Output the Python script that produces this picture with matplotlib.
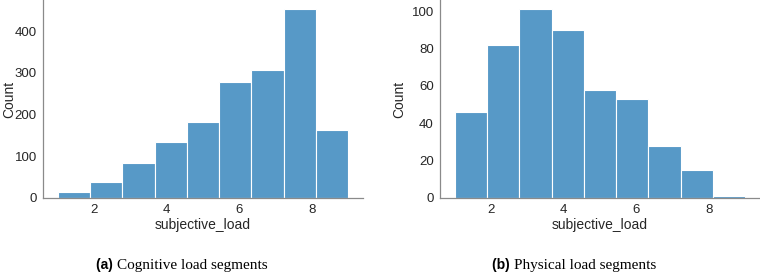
import numpy as np
import matplotlib
matplotlib.use("Agg")
import matplotlib.pyplot as plt

# histogram counts, 9 bins over subjective_load 1..9
cognitive_counts = [14, 39, 83, 134, 182, 278, 308, 452, 162]
physical_counts = [46, 82, 101, 90, 58, 53, 28, 15, 1]
load_min, load_max, n_bins = 1, 9, 9

cognitive_ticks = [0, 100, 200, 300, 400]
physical_ticks = [0, 20, 40, 60, 80, 100]
x_ticks = [2, 4, 6, 8]

captions = [("(a)", "Cognitive load segments"), ("(b)", "Physical load segments")]

bar_color = "#5799c7"
spine_color = "#8a8a8a"
text_color = "#262626"

plt.rcParams["font.family"] = ["Liberation Sans", "DejaVu Sans"]

fig = plt.figure(figsize=(7.6, 2.74), dpi=100)
ax1 = fig.add_axes([43 / 760, 1 - 198 / 274, 320 / 760, 198 / 274])
ax2 = fig.add_axes([440 / 760, 1 - 198 / 274, 320 / 760, 198 / 274])

edges = np.linspace(load_min, load_max, n_bins + 1)

for ax, counts, yticks in [(ax1, cognitive_counts, cognitive_ticks),
                           (ax2, physical_counts, physical_ticks)]:
    ax.bar(edges[:-1], counts, width=np.diff(edges), align="edge",
           color=bar_color, edgecolor="white", linewidth=0.8)
    ax.margins(x=0.05, y=0.05)
    ax.set_ylim(0, max(counts) * 1.05)
    ax.set_xticks(x_ticks)
    ax.set_yticks(yticks)
    ax.tick_params(length=0, labelsize=9.5, colors=text_color, pad=4.5)
    ax.set_xlabel("subjective_load", fontsize=10, color=text_color, labelpad=1)
    ax.set_ylabel("Count", fontsize=10, color=text_color, labelpad=4)
    for side in ["top", "right"]:
        ax.spines[side].set_visible(False)
    for side in ["left", "bottom"]:
        ax.spines[side].set_color(spine_color)
        ax.spines[side].set_linewidth(0.9)

# left panel label sits right at the figure edge
ax1.yaxis.set_label_coords(-27 / 320, 0.5)

# sub-captions: bold sans label followed by serif text
for ax, (tag, text) in zip([ax1, ax2], captions):
    pos = ax.get_position()
    cx = (pos.x0 + pos.x1) / 2 - 86 / 760
    fig.text(cx, 9 / 274, tag + " ", fontsize=10, fontweight="bold",
             ha="right", va="center", color="black")
    fig.text(cx, 9 / 274, text, fontsize=11, family=["Liberation Serif"],
             ha="left", va="center", color="black")

fig.savefig("out.png", dpi=100)
